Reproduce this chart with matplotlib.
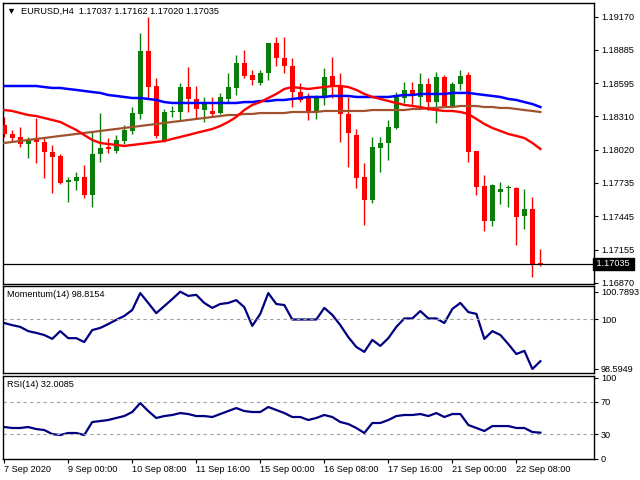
import matplotlib.pyplot as plt
import numpy as np

# EURUSD H4 candles, 7 Sep 16:00 .. 22 Sep 12:00
opens = [1.18236, 1.18158, 1.18132, 1.18071, 1.18123, 1.18089, 1.18002, 1.17968, 1.17743, 1.17751,
         1.17786, 1.17630, 1.17985, 1.18045, 1.18011, 1.18097, 1.18184, 1.18331, 1.18876, 1.18573,
         1.18106, 1.18348, 1.18348, 1.18564, 1.18461, 1.18365, 1.18357, 1.18339, 1.18461, 1.18556,
         1.18772, 1.18668, 1.18599, 1.18685, 1.18945, 1.18815, 1.18746, 1.18521, 1.18469, 1.18348,
         1.18487, 1.18660, 1.18564, 1.18331, 1.18149, 1.17786, 1.17587, 1.18037, 1.18080, 1.18210,
         1.18469, 1.18539, 1.18478, 1.18590, 1.18434, 1.18651, 1.18400, 1.18590, 1.18668, 1.18011,
         1.17708, 1.17405, 1.17656, 1.17691, 1.17691, 1.17449, 1.17509, 1.17037]
highs = [1.18305, 1.18193, 1.18219, 1.18132, 1.18296, 1.18132, 1.18063, 1.17985, 1.17786, 1.17829,
         1.17890, 1.18175, 1.18339, 1.18123, 1.18149, 1.18236, 1.18391, 1.19032, 1.19170, 1.18642,
         1.18374, 1.18400, 1.18599, 1.18737, 1.18573, 1.18478, 1.18478, 1.18513, 1.18685, 1.18841,
         1.18885, 1.18711, 1.18711, 1.18945, 1.18997, 1.18997, 1.18815, 1.18599, 1.18513, 1.18495,
         1.18729, 1.18824, 1.18685, 1.18478, 1.18201, 1.17907, 1.18132, 1.18132, 1.18279, 1.18521,
         1.18608, 1.18608, 1.18685, 1.18642, 1.18694, 1.18668, 1.18608, 1.18711, 1.18694, 1.18011,
         1.17803, 1.17725, 1.17743, 1.17717, 1.17699, 1.17682, 1.17613, 1.17162]
lows = [1.18132, 1.18097, 1.18045, 1.17950, 1.17907, 1.17777, 1.17647, 1.17725, 1.17570, 1.17673,
        1.17604, 1.17527, 1.17916, 1.17993, 1.17993, 1.18071, 1.18158, 1.18288, 1.18469, 1.18123,
        1.18089, 1.18305, 1.18279, 1.18348, 1.18288, 1.18262, 1.18313, 1.18331, 1.18434, 1.18495,
        1.18642, 1.18582, 1.18582, 1.18625, 1.18746, 1.18685, 1.18391, 1.18434, 1.18279, 1.18288,
        1.18409, 1.18469, 1.18089, 1.17873, 1.17691, 1.17371, 1.17561, 1.17829, 1.17933, 1.18201,
        1.18426, 1.18409, 1.18391, 1.18365, 1.18253, 1.18391, 1.18391, 1.18539, 1.17916, 1.17630,
        1.17319, 1.17362, 1.17553, 1.17527, 1.17198, 1.17336, 1.16921, 1.17020]
closes = [1.18158, 1.18123, 1.18071, 1.18106, 1.18089, 1.18002, 1.17959, 1.17734, 1.17760, 1.17786,
          1.17630, 1.17985, 1.18037, 1.18028, 1.18106, 1.18193, 1.18339, 1.18876, 1.18564, 1.18141,
          1.18348, 1.18357, 1.18564, 1.18461, 1.18374, 1.18417, 1.18331, 1.18478, 1.18564, 1.18772,
          1.18660, 1.18625, 1.18685, 1.18945, 1.18815, 1.18746, 1.18521, 1.18452, 1.18339, 1.18469,
          1.18651, 1.18564, 1.18331, 1.18167, 1.17777, 1.17587, 1.18045, 1.18080, 1.18219, 1.18478,
          1.18539, 1.18487, 1.18590, 1.18434, 1.18651, 1.18400, 1.18590, 1.18660, 1.18002, 1.17699,
          1.17405, 1.17717, 1.17682, 1.17699, 1.17440, 1.17509, 1.17037, 1.17035]

# moving averages
ma_blue = [1.18573, 1.18573, 1.18573, 1.18573, 1.18573, 1.18564, 1.18556, 1.18556, 1.18547, 1.18539,
           1.18530, 1.18521, 1.18513, 1.18495, 1.18487, 1.18478, 1.18469, 1.18469, 1.18461, 1.18452,
           1.18434, 1.18426, 1.18426, 1.18426, 1.18426, 1.18426, 1.18426, 1.18426, 1.18426, 1.18426,
           1.18434, 1.18434, 1.18443, 1.18443, 1.18452, 1.18452, 1.18461, 1.18469, 1.18478, 1.18478,
           1.18478, 1.18487, 1.18487, 1.18487, 1.18478, 1.18478, 1.18478, 1.18478, 1.18478, 1.18487,
           1.18495, 1.18495, 1.18504, 1.18504, 1.18504, 1.18504, 1.18513, 1.18513, 1.18513, 1.18504,
           1.18495, 1.18487, 1.18478, 1.18461, 1.18452, 1.18434, 1.18417, 1.18391]
ma_brown = [1.18080, 1.18089, 1.18097, 1.18106, 1.18115, 1.18123, 1.18132, 1.18141, 1.18149, 1.18158,
            1.18167, 1.18175, 1.18184, 1.18193, 1.18201, 1.18210, 1.18219, 1.18227, 1.18236, 1.18244,
            1.18253, 1.18262, 1.18270, 1.18279, 1.18288, 1.18296, 1.18305, 1.18313, 1.18322, 1.18322,
            1.18331, 1.18331, 1.18339, 1.18339, 1.18339, 1.18339, 1.18348, 1.18348, 1.18348, 1.18348,
            1.18357, 1.18357, 1.18357, 1.18357, 1.18357, 1.18357, 1.18365, 1.18365, 1.18365, 1.18365,
            1.18365, 1.18374, 1.18374, 1.18383, 1.18383, 1.18391, 1.18391, 1.18400, 1.18400, 1.18400,
            1.18391, 1.18391, 1.18383, 1.18383, 1.18374, 1.18365, 1.18357, 1.18348]
ma_red = [1.18365, 1.18357, 1.18339, 1.18322, 1.18313, 1.18296, 1.18279, 1.18262, 1.18227, 1.18193,
          1.18149, 1.18106, 1.18080, 1.18071, 1.18063, 1.18054, 1.18063, 1.18071, 1.18080, 1.18089,
          1.18097, 1.18115, 1.18132, 1.18149, 1.18167, 1.18184, 1.18201, 1.18227, 1.18262, 1.18305,
          1.18365, 1.18409, 1.18434, 1.18469, 1.18504, 1.18547, 1.18564, 1.18556, 1.18547, 1.18556,
          1.18564, 1.18573, 1.18573, 1.18564, 1.18539, 1.18504, 1.18478, 1.18461, 1.18443, 1.18426,
          1.18409, 1.18400, 1.18391, 1.18374, 1.18365, 1.18357, 1.18357, 1.18348, 1.18331, 1.18288,
          1.18244, 1.18210, 1.18184, 1.18158, 1.18141, 1.18123, 1.18080, 1.18028]

# Momentum(14)
momentum = [99.90, 99.84, 99.79, 99.67, 99.62, 99.56, 99.45, 99.67, 99.47, 99.47,
            99.36, 99.70, 99.76, 99.87, 99.99, 100.10, 100.27, 100.75, 100.47, 100.18,
            100.38, 100.58, 100.7893, 100.67, 100.70, 100.47, 100.33, 100.44, 100.47, 100.55,
            100.35, 99.82, 100.16, 100.75, 100.44, 100.41, 100.00, 100.00, 100.00, 100.00,
            100.33, 100.13, 99.84, 99.50, 99.22, 99.08, 99.42, 99.25, 99.47, 99.79,
            100.03, 100.03, 100.24, 100.03, 100.03, 99.90, 100.30, 100.47, 100.21, 100.16,
            99.45, 99.67, 99.56, 99.30, 99.02, 99.11, 98.5949, 98.8154]

# RSI(14)
rsi = [39.0, 37.8, 37.8, 39.0, 36.5, 35.3, 30.3, 29.1, 31.6, 31.6,
       29.1, 45.2, 46.4, 47.7, 50.2, 52.6, 57.6, 68.7, 58.8, 50.2,
       52.6, 53.9, 56.3, 55.1, 52.6, 52.6, 51.4, 55.1, 58.8, 62.5,
       58.8, 57.6, 57.6, 63.8, 60.1, 56.3, 51.4, 51.4, 47.7, 50.2,
       53.9, 51.4, 45.2, 42.7, 37.8, 31.6, 44.0, 44.0, 47.7, 52.6,
       53.9, 53.9, 55.1, 52.6, 56.3, 51.4, 55.1, 55.1, 41.5, 37.8,
       34.1, 40.2, 40.2, 40.2, 37.8, 37.8, 32.8, 32.0085]

price_ticks = [1.19170, 1.18885, 1.18595, 1.18310, 1.18020, 1.17735, 1.17445, 1.17155, 1.16870]
date_pos = [0, 8, 16, 24, 32, 40, 48, 56, 64]
date_labels = ["7 Sep 2020", "9 Sep 00:00", "10 Sep 08:00", "11 Sep 16:00", "15 Sep 00:00",
               "16 Sep 08:00", "17 Sep 16:00", "21 Sep 00:00", "22 Sep 08:00"]

plt.rcParams['font.family'] = ['Liberation Sans', 'DejaVu Sans']
fs = 6.6
GREEN = '#0b7d0b'
RED = '#ff0000'
NAVY = '#000080'

fig = plt.figure(figsize=(6.4, 4.8), dpi=100)
left, width = 3 / 640, 591 / 640
ax = fig.add_axes([left, 1 - 284 / 480, width, 281 / 480])
ax_m = fig.add_axes([left, 1 - 373 / 480, width, 87 / 480])
ax_r = fig.add_axes([left, 1 - 459 / 480, width, 83 / 480])

x = np.arange(len(opens))
o = np.array(opens)
c = np.array(closes)
cols = [GREEN if cc >= oo else RED for oo, cc in zip(o, c)]

# candles: wicks then bodies
ax.vlines(x, lows, highs, colors=cols, linewidth=1, zorder=2)
body_h = np.maximum(np.abs(c - o), 0.00009)
ax.bar(x, body_h, bottom=np.minimum(o, c), width=0.65, color=cols, linewidth=0, zorder=3)

ax.plot(x, ma_brown, color='#a0522d', lw=1.6, zorder=4)
ax.plot(x, ma_blue, color='#0000ff', lw=1.8, zorder=4)
ax.plot(x, ma_red, color=RED, lw=1.7, zorder=4)

# current bid line
ax.axhline(closes[-1], color='black', lw=0.9, zorder=5)

xlim = (-0.15, 73.7)
ax.set_xlim(*xlim)
ax.set_ylim(1.16860, 1.19291)
ax.yaxis.tick_right()
ax.set_yticks(price_ticks)
ax.set_yticklabels([f"{p:.5f}" for p in price_ticks])
ax.set_xticks([])
ax.text(1.0, closes[-1], f" {closes[-1]:.5f} ", transform=ax.get_yaxis_transform(),
        ha='left', va='center', fontsize=fs, color='white',
        bbox=dict(boxstyle='square,pad=0.15', fc='black', ec='black'))
ax.text(0.006, 0.985, "\u25bc  EURUSD,H4  1.17037 1.17162 1.17020 1.17035", transform=ax.transAxes,
        ha='left', va='top', fontsize=fs)

# Momentum panel
ax_m.plot(x, momentum, color=NAVY, lw=1.6)
ax_m.axhline(100, color='#a0a0a0', lw=0.8, ls=(0, (3, 3)))
ax_m.set_xlim(*xlim)
ax_m.set_ylim(98.481, 100.951)
ax_m.yaxis.tick_right()
ax_m.set_yticks([100.7893, 100, 98.5949])
ax_m.set_yticklabels(["100.7893", "100", "98.5949"])
ax_m.set_xticks([])
ax_m.text(0.006, 0.95, "Momentum(14) 98.8154", transform=ax_m.transAxes, ha='left', va='top', fontsize=fs)

# RSI panel
ax_r.plot(x, rsi, color=NAVY, lw=1.6)
for lvl in (70, 30):
    ax_r.axhline(lvl, color='#a0a0a0', lw=0.8, ls=(0, (3, 3)))
ax_r.set_xlim(*xlim)
ax_r.set_ylim(-0.6, 102.2)
ax_r.yaxis.tick_right()
ax_r.set_yticks([100, 70, 30, 0])
ax_r.set_yticklabels(["100", "70", "30", "0"])
ax_r.set_xticks(date_pos)
ax_r.set_xticklabels(date_labels, ha='left')
ax_r.text(0.006, 0.95, "RSI(14) 32.0085", transform=ax_r.transAxes, ha='left', va='top', fontsize=fs)

for a in (ax, ax_m, ax_r):
    for s in a.spines.values():
        s.set_linewidth(1.0)
        s.set_color('black')
    a.tick_params(axis='y', length=3, width=0.8, pad=2, labelsize=fs)
    a.tick_params(axis='x', length=3, width=0.8, pad=1.5, labelsize=fs)

fig.savefig("out.png", dpi=100)
